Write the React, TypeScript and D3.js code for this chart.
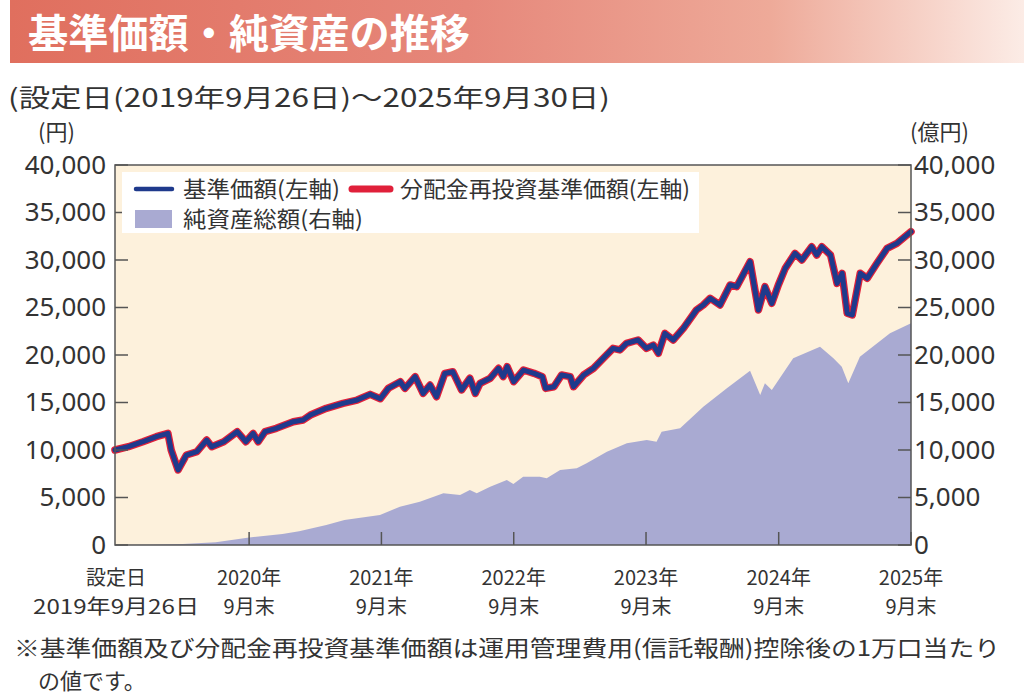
import React from 'react';
import * as d3 from 'd3';

// 基準価額 (円)
const navDates = [
  '2019-09-26', '2019-11-02', '2019-12-12', '2020-01-18', '2020-02-19', '2020-02-28',
  '2020-03-18', '2020-04-10', '2020-05-09', '2020-06-05', '2020-06-19', '2020-07-22',
  '2020-08-28', '2020-09-21', '2020-10-11', '2020-10-25', '2020-11-13', '2020-12-14',
  '2021-01-30', '2021-02-26', '2021-03-18', '2021-05-01', '2021-06-16', '2021-07-25',
  '2021-08-30', '2021-09-27', '2021-10-19', '2021-11-21', '2021-12-04', '2022-01-01',
  '2022-01-23', '2022-02-11', '2022-03-01', '2022-03-24', '2022-04-15', '2022-05-09',
  '2022-06-01', '2022-06-16', '2022-06-29', '2022-07-27', '2022-08-19', '2022-09-01',
  '2022-09-12', '2022-09-30', '2022-10-27', '2022-11-25', '2022-12-18', '2022-12-27',
  '2023-01-19', '2023-02-09', '2023-03-05', '2023-03-14', '2023-04-11', '2023-05-08',
  '2023-06-04', '2023-07-01', '2023-07-20', '2023-08-07', '2023-09-08', '2023-10-01',
  '2023-10-20', '2023-11-03', '2023-11-21', '2023-12-14', '2024-01-11', '2024-02-16',
  '2024-03-06', '2024-03-25', '2024-04-21', '2024-05-19', '2024-06-06', '2024-07-13',
  '2024-08-05', '2024-08-23', '2024-09-11', '2024-09-29', '2024-10-18', '2024-11-14',
  '2024-12-03', '2024-12-30', '2025-01-13', '2025-01-27', '2025-02-20', '2025-03-10',
  '2025-03-24', '2025-04-07', '2025-04-21', '2025-05-13', '2025-06-01', '2025-06-28',
  '2025-07-26', '2025-08-22', '2025-09-30',
];
const navValues = [
  10000, 10350, 10870, 11400, 11750, 10000,
  7900, 9470, 9820, 11050, 10350, 10870,
  11930, 10870, 11750, 10870, 11930, 12280,
  12980, 13160, 13680, 14390, 14910, 15260,
  15860, 15400, 16490, 17190, 16490, 17720,
  15960, 16840, 15610, 18070, 18240, 16320,
  17550, 15960, 17020, 17550, 18600, 17720,
  18770, 17190, 18420, 18070, 17720, 16490,
  16660, 17900, 17720, 16660, 17900, 18600,
  19650, 20700, 20530, 21230, 21580, 20700,
  21050, 20180, 22280, 21580, 22810, 24740,
  25260, 25970, 25260, 27370, 27190, 29820,
  24740, 27190, 25440, 27370, 29120, 30700,
  30000, 31400, 30530, 31400, 30530, 27540,
  28600, 24390, 24210, 28600, 28070, 29650,
  31230, 31750, 32980,
];

// 純資産総額 (億円)
const aumDates = [
  '2019-09-26', '2019-12-31', '2020-03-31', '2020-06-30', '2020-09-30', '2020-12-31',
  '2021-02-15', '2021-05-01', '2021-06-20', '2021-09-26', '2021-11-20', '2022-01-14',
  '2022-03-20', '2022-05-05', '2022-06-01', '2022-06-20', '2022-07-27', '2022-09-11',
  '2022-09-29', '2022-10-26', '2022-12-11', '2022-12-30', '2023-02-05', '2023-03-23',
  '2023-04-19', '2023-06-14', '2023-08-08', '2023-10-02', '2023-10-29', '2023-11-12',
  '2024-01-02', '2024-03-06', '2024-05-10', '2024-07-13', '2024-08-10', '2024-08-23',
  '2024-09-11', '2024-11-09', '2025-01-22', '2025-02-28', '2025-03-23', '2025-04-10',
  '2025-05-12', '2025-08-03', '2025-09-30',
];
const aumValues = [
  0, 30, 100, 300, 800, 1150,
  1450, 2100, 2630, 3160, 4030, 4560,
  5440, 5260, 5790, 5440, 6140, 6840,
  6420, 7190, 7190, 7020, 7900, 8070,
  8600, 9820, 10700, 11050, 10870, 11930,
  12280, 14560, 16490, 18350, 15790, 17020,
  16320, 19650, 20880, 19650, 18770, 17020,
  19820, 22280, 23330,
];

const yTicks = [0, 5000, 10000, 15000, 20000, 25000, 30000, 35000, 40000];
const xTickDates = ['2020-09-30', '2021-09-30', '2022-09-30', '2023-09-30', '2024-09-30', '2025-09-30'];
const xTickYears = ['2020年', '2021年', '2022年', '2023年', '2024年', '2025年'];

const parse = d3.timeParse('%Y-%m-%d');
const jp = '"Noto Sans CJK JP", sans-serif';
const num = '"Noto Sans", "Open Sans", sans-serif';

export default function App() {
  const left = 115, right = 911, top = 165, bottom = 545;

  const x = d3.scaleTime()
    .domain([parse('2019-09-26') as Date, parse('2025-09-30') as Date])
    .range([left, right]);
  const y = d3.scaleLinear().domain([0, 40000]).range([bottom, top]);

  const nav = navDates.map((d, i) => ({ date: parse(d) as Date, v: navValues[i] }));
  const aum = aumDates.map((d, i) => ({ date: parse(d) as Date, v: aumValues[i] }));

  const line = d3.line<{ date: Date; v: number }>()
    .x(d => x(d.date))
    .y(d => y(d.v));
  const area = d3.area<{ date: Date; v: number }>()
    .x(d => x(d.date))
    .y0(bottom)
    .y1(d => y(d.v));

  const fmt = d3.format(',');

  return (
    <svg width={1024} height={694} style={{ position: 'absolute', left: 0, top: 0 }}>
      <defs>
        <linearGradient id="banner" x1="0" x2="1" y1="0" y2="0">
          <stop offset="0" stopColor="#e06f5e" />
          <stop offset="0.45" stopColor="#e6877a" />
          <stop offset="0.75" stopColor="#eeaa99" />
          <stop offset="1" stopColor="#fcece6" />
        </linearGradient>
      </defs>
      <rect x={0} y={0} width={1024} height={694} fill="#fff" />

      {/* title banner */}
      <rect x={10} y={0} width={1014} height={63} fill="url(#banner)" />
      <text x={28} y={48} fill="#fff" fontFamily={jp} fontWeight={700} fontSize={40}
        textLength={442} lengthAdjust="spacingAndGlyphs">基準価額・純資産の推移</text>

      <text x={8} y={107} fill="#333" fontFamily={jp} fontSize={25}
        textLength={602} lengthAdjust="spacingAndGlyphs">(設定日(2019年9月26日)～2025年9月30日)</text>
      <text x={38} y={140} fill="#333" fontFamily={jp} fontSize={22}>(円)</text>
      <text x={910} y={140} fill="#333" fontFamily={jp} fontSize={22}>(億円)</text>

      {/* plot */}
      <rect x={left} y={top} width={right - left} height={bottom - top} fill="#fdf1dc" />
      <path d={area(aum) ?? ''} fill="#a9aad2" />
      <path d={line(nav) ?? ''} fill="none" stroke="#e0203a" strokeWidth={7.5}
        strokeLinejoin="round" strokeLinecap="round" />
      <path d={line(nav) ?? ''} fill="none" stroke="#1f3a8c" strokeWidth={5}
        strokeLinejoin="round" strokeLinecap="round" />

      {yTicks.map(t => (
        <g key={t}>
          <line x1={left} x2={left + 13} y1={y(t)} y2={y(t)} stroke="#555" strokeWidth={1.5} />
          <line x1={right - 13} x2={right} y1={y(t)} y2={y(t)} stroke="#555" strokeWidth={1.5} />
          <text x={106} y={y(t)} dy="0.34em" textAnchor="end" fill="#333" fontFamily={num} fontSize={26}>{fmt(t)}</text>
          <text x={914} y={y(t)} dy="0.34em" textAnchor="start" fill="#333" fontFamily={num} fontSize={26}>{fmt(t)}</text>
        </g>
      ))}
      {xTickDates.map((d, i) => {
        const px = x(parse(d) as Date);
        return (
          <g key={d}>
            <line x1={px} x2={px} y1={bottom} y2={bottom - 13} stroke="#555" strokeWidth={1.5} />
            <text x={px} y={585} textAnchor="middle" fill="#333" fontFamily={jp} fontSize={20}>{xTickYears[i]}</text>
            <text x={px} y={614} textAnchor="middle" fill="#333" fontFamily={jp} fontSize={20}>9月末</text>
          </g>
        );
      })}
      <text x={116} y={585} textAnchor="middle" fill="#333" fontFamily={jp} fontSize={20}>設定日</text>
      <text x={116} y={614} textAnchor="middle" fill="#333" fontFamily={jp} fontSize={20}
        textLength={166} lengthAdjust="spacingAndGlyphs">2019年9月26日</text>

      <rect x={left} y={top} width={right - left} height={bottom - top} fill="none" stroke="#555" strokeWidth={1.5} />

      {/* legend */}
      <rect x={122} y={172} width={577} height={61} fill="#fff" />
      <line x1={136} x2={172} y1={189} y2={189} stroke="#1f3a8c" strokeWidth={4.5} strokeLinecap="round" />
      <text x={183} y={197} fill="#333" fontFamily={jp} fontSize={22}
        textLength={157} lengthAdjust="spacingAndGlyphs">基準価額(左軸)</text>
      <line x1={352} x2={390} y1={189} y2={189} stroke="#e0203a" strokeWidth={7} strokeLinecap="round" />
      <text x={400} y={197} fill="#333" fontFamily={jp} fontSize={22}
        textLength={290} lengthAdjust="spacingAndGlyphs">分配金再投資基準価額(左軸)</text>
      <rect x={135} y={210} width={37} height={18} fill="#a9aad2" />
      <text x={183} y={227} fill="#333" fontFamily={jp} fontSize={22}
        textLength={180} lengthAdjust="spacingAndGlyphs">純資産総額(右軸)</text>

      {/* footnote */}
      <text x={14} y={656} fill="#333" fontFamily={jp} fontSize={22}
        textLength={986} lengthAdjust="spacingAndGlyphs">※基準価額及び分配金再投資基準価額は運用管理費用(信託報酬)控除後の1万口当たり</text>
      <text x={38} y={689} fill="#333" fontFamily={jp} fontSize={22}>の値です。</text>
    </svg>
  );
}
